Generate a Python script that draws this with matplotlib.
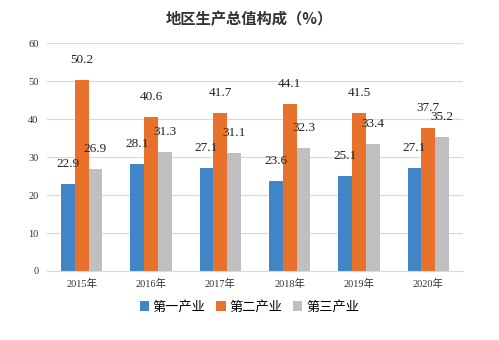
import matplotlib
matplotlib.use("Agg")
import matplotlib.pyplot as plt
import numpy as np

plt.rcParams['font.family'] = ['Liberation Serif', 'Noto Sans CJK SC', 'DejaVu Sans']

years = ["2015年", "2016年", "2017年", "2018年", "2019年", "2020年"]
series_names = ["第一产业", "第二产业", "第三产业"]
primary = [22.9, 28.1, 27.1, 23.6, 25.1, 27.1]
secondary = [50.2, 40.6, 41.7, 44.1, 41.5, 37.7]
tertiary = [26.9, 31.3, 31.1, 32.3, 33.4, 35.2]
colors = ["#4285C6", "#E8712B", "#BFBFBF"]

fig = plt.figure(figsize=(4.99, 3.4), dpi=100)
ax = fig.add_axes([0.094, 0.203, 0.834, 0.67])

x = np.arange(len(years))
w = 0.2
for i, (vals, name, c) in enumerate(zip([primary, secondary, tertiary], series_names, colors)):
    pos = x + (i - 1) * w
    bars = ax.bar(pos, vals, w, color=c, label=name, zorder=2)
    for b, v in zip(bars, vals):
        ax.annotate(f"{v:.1f}", (b.get_x() + b.get_width() / 2, v),
                    xytext=(0, 14), textcoords="offset pixels",
                    ha="center", va="bottom", fontsize=9.5, color="#222222")

ax.set_xlim(-0.5, len(years) - 0.5)
ax.set_ylim(0, 60)
ax.set_yticks(range(0, 61, 10))
ax.set_xticks(x)
ax.set_xticklabels(years)
ax.tick_params(axis="both", length=0, labelsize=7.5, colors="#333333")
ax.tick_params(axis="x", pad=6)
ax.tick_params(axis="y", pad=6)
ax.grid(axis="y", color="#D9D9D9", linewidth=0.8, zorder=0)
for s in ["top", "right", "left"]:
    ax.spines[s].set_visible(False)
ax.spines["bottom"].set_color("#D9D9D9")

fig.text(0.5, 0.945, "地区生产总值构成（%）", ha="center", va="center",
         fontsize=11, fontweight="bold", color="#333333",
         family=['Noto Sans CJK SC', 'DejaVu Sans'])

fig.legend(loc="center", bbox_to_anchor=(0.5, 0.097), ncol=3, frameon=False,
           handlelength=0.7, handleheight=0.7, handletextpad=0.3,
           columnspacing=0.8, prop={'family': ['Noto Sans CJK SC', 'DejaVu Sans'], 'size': 9.5})

fig.savefig("out.png", dpi=100)
